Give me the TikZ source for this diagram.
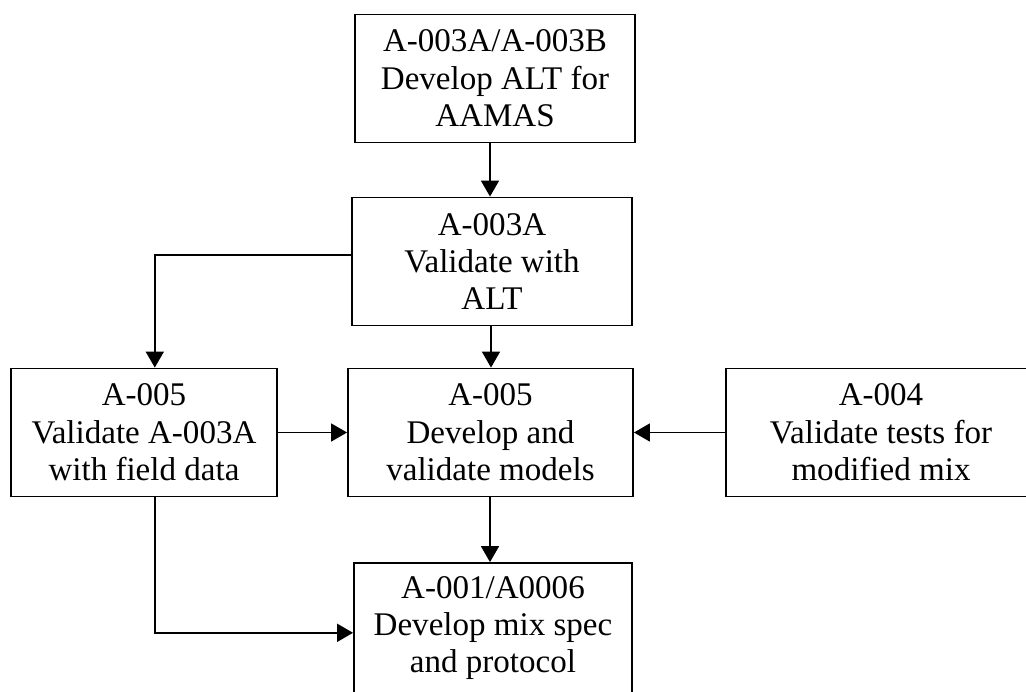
\documentclass[tikz,border=0pt]{standalone}
\usepackage{fontspec}
\setmainfont{Liberation Serif}
\usetikzlibrary{arrows.meta}

\begin{document}
\begin{tikzpicture}[
  x=0.025cm, y=-0.025cm,
  font=\fontsize{23.5}{26.6}\selectfont,
  >={Triangle[length=0.4cm, width=0.45cm]},
  line width=1.3pt,
  box/.style={draw, align=center, inner sep=0pt, minimum height=3.2cm}
]
\clip (0,0) rectangle (1026,691);
\node[box, minimum width=7cm] (alt) at (495,78.5) {A-003A/A-003B\\Develop ALT for\\AAMAS};
\node[box, minimum width=7cm] (val) at (492,261.5) {A-003A\\Validate with\\ALT};
\node[box, minimum width=6.65cm] (field) at (144,432.5) {A-005\\Validate A-003A\\with field data};
\node[box, minimum width=7.125cm] (model) at (490.5,432.5) {A-005\\Develop and\\validate models};
\node[box, minimum width=7.75cm] (tests) at (881,432.5) {A-004\\Validate tests for\\modified mix};
\node[box, minimum width=6.95cm, minimum height=3.25cm] (spec) at (493,628) {A-001/A0006\\Develop mix spec\\and protocol};

\draw[->] (alt.south -| 490,0) -- (val.north -| 490,0);
\draw[->] ([yshift=0.16cm]val.west) -| ([xshift=0.27cm]field.north);
\draw[->] (val.south -| 491,0) -- (model.north -| 491,0);
\draw[->] (field) -- (model);
\draw[->] (tests) -- (model);
\draw[->] (model.south -| 490,0) -- (spec.north -| 490,0);
\draw[->] ([xshift=0.27cm]field.south) |- ([yshift=-0.12cm]spec.west);
\end{tikzpicture}
\end{document}
